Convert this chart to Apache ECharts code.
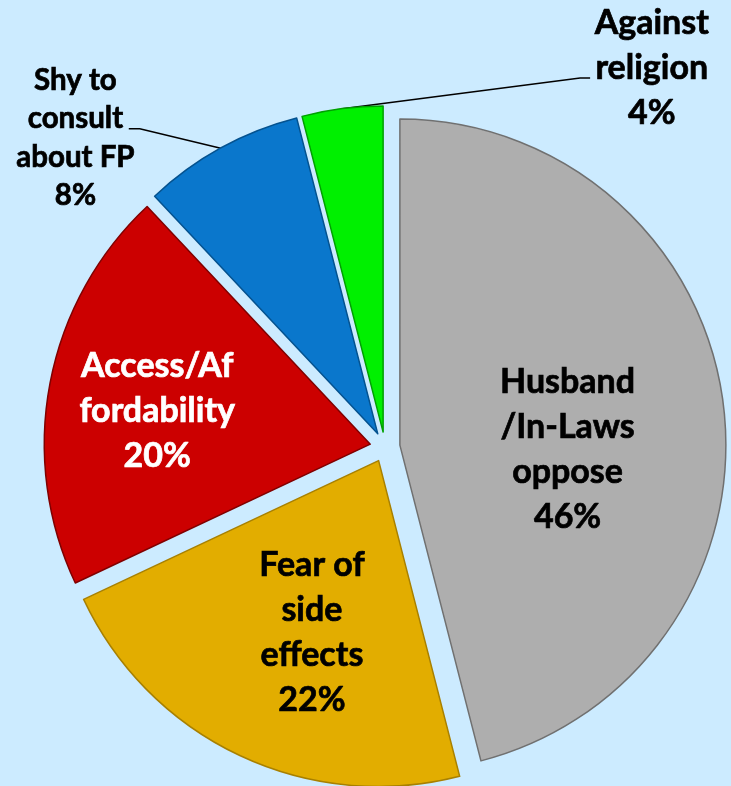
<!DOCTYPE html>
<html>
<head>
<meta charset="utf-8">
<title>Reasons for not using FP</title>
<script src="https://cdn.jsdelivr.net/npm/echarts@6/dist/echarts.min.js"></script>
<style>
	html, body { margin: 0; padding: 0; background: #CCEBFF; }
	#piechart { width: 731px; height: 786px; }
</style>
</head>
<body>
<div id="piechart"></div>
<script>
	// data, clockwise from 12 o'clock
	var categories = ['Husband\n/In-Laws\noppose', 'Fear of\nside\neffects', 'Access/Af\nfordability', 'Shy to\nconsult\nabout FP', 'Against\nreligion'];
	var values = [46, 22, 20, 8, 4];
	var colors = ['#AEAEAE', '#E2AD00', '#CC0000', '#0A77CC', '#00F000'];
	var borderColors = ['#707070', '#A88000', '#800000', '#04528F', '#00A000'];
	var labelColors = ['#000', '#000', '#fff', '#000', '#000'];
	var outside = [false, false, false, true, true];

	var pieData = [];
	categories.forEach(function (name, i) {
		pieData.push({
			name: name,
			value: values[i],
			selected: true,
			itemStyle: {
				color: colors[i],
				borderColor: borderColors[i],
				borderWidth: 1.5
			},
			label: {
				position: outside[i] ? 'outside' : 'inside',
				color: labelColors[i],
				textBorderColor: labelColors[i],
				fontSize: i == 3 ? 29.5 : 34,
				lineHeight: i == 3 ? 38.5 : 45
			},
			labelLine: {
				show: outside[i]
			}
		});
	});

	// small nudges so the labels sit where the original puts them
	var insideShift = [[3, 25], [4, 22], [-50, -2]];
	// outside labels: centre of the text block and end of the leader line
	// (line points live in the exploded slice's own frame, hence the extra shift)
	var outsideAt = {
		3: { center: [83, 151], lineEnd: [136, 142], kink: 11 },
		4: { center: [654, 83], lineEnd: [592, 93], kink: -10 }
	};

	var chart = echarts.init(document.getElementById('piechart'));
	var options = {
		backgroundColor: '#CCEBFF',
		animation: false,
		series: [{
			type: 'pie',
			center: [385, 447],
			radius: 326,
			startAngle: 90,
			clockwise: true,
			selectedMode: 'multiple',
			selectedOffset: 15,
			emphasis: { disabled: true },
			label: {
				show: true,
				fontFamily: 'Lato',
				fontWeight: 'bold',
				textBorderWidth: 0.7,
				align: 'center',
				overflow: 'none',
				formatter: function (p) {
					return p.name + '\n' + p.value + '%';
				}
			},
			labelLine: {
				smooth: false,
				length: 20,
				length2: 10,
				lineStyle: { color: '#000', width: 1.5 }
			},
			labelLayout: function (p) {
				var o = outsideAt[p.dataIndex];
				if (o) {
					var r = p.labelRect;
					var start = p.labelLinePoints[0];
					return {
						align: 'center',
						dx: o.center[0] - (r.x + r.width),
						dy: o.center[1] - (r.y + r.height / 2),
						labelLinePoints: [
							start,
							[o.lineEnd[0] + o.kink, o.lineEnd[1]],
							o.lineEnd
						]
					};
				}
				var s = insideShift[p.dataIndex];
				return { dx: s[0], dy: s[1] };
			},
			data: pieData
		}]
	};
	chart.setOption(options);
</script>
</body>
</html>
